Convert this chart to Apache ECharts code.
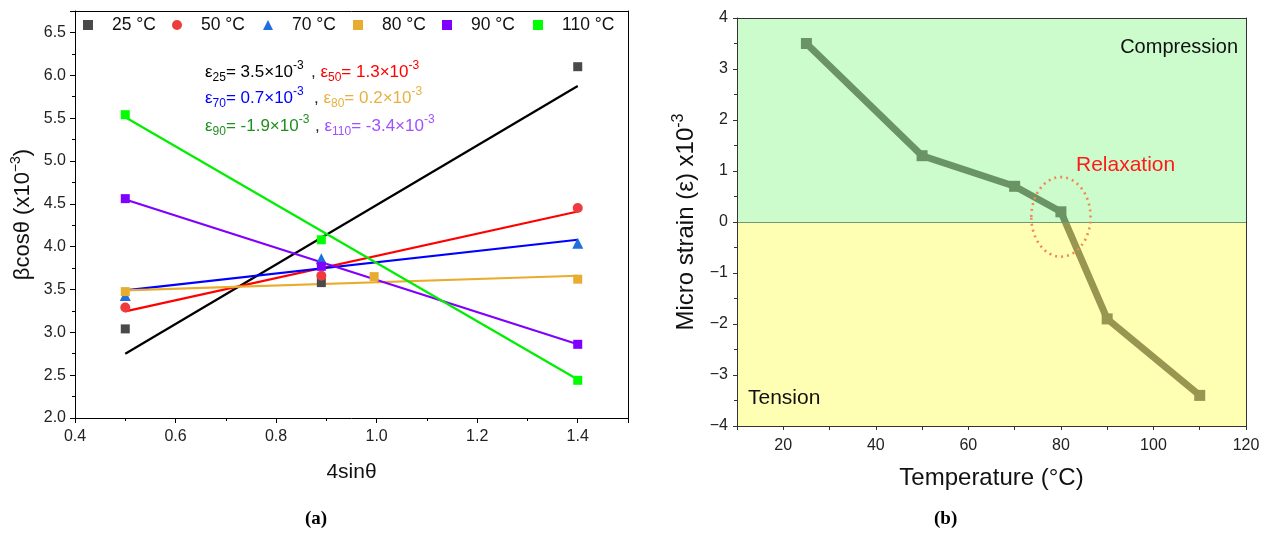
<!DOCTYPE html>
<html>
<head>
<meta charset="utf-8">
<script src="https://cdn.jsdelivr.net/npm/echarts@6/dist/echarts.min.js"></script>
<style>
  html, body { margin: 0; padding: 0; background: #fff; }
  #chart { width: 1268px; height: 535px; }
</style>
</head>
<body>
<div id="chart"></div>
<script>
const FONT = '"Liberation Sans", Arial, sans-serif';
const SERIF = '"Liberation Serif", "DejaVu Serif", serif';

// (a) Williamson–Hall points: x = 4sinθ, y = βcosθ (x10^-3)
const temps = ['25 °C', '50 °C', '70 °C', '80 °C', '90 °C', '110 °C'];
const sinX = [0.5, 0.89, 1.4];
const sinX80 = [0.5, 0.995, 1.4];
const b25 = [3.04, 3.58, 6.10];
const b50 = [3.29, 3.66, 4.45];
const b70 = [3.43, 3.86, 4.04];
const b80 = [3.475, 3.65, 3.62];
const b90 = [4.56, 3.77, 2.86];
const b110 = [5.54, 4.08, 2.44];

// straight-line fits, drawn between the first and last 4sinθ values
const fitX = [0.5, 1.4];
const fit25 = [2.75, 5.875];
const fit50 = [3.245, 4.41];
const fit70 = [3.49, 4.08];
const fit80 = [3.49, 3.66];
const fit90 = [4.55, 2.86];
const fit110 = [5.51, 2.45];

// (b) micro strain against temperature
const tempC = [25, 50, 70, 80, 90, 110];
const strain = [3.5, 1.3, 0.7, 0.2, -1.9, -3.4];

const pointsX = [sinX, sinX, sinX, sinX80, sinX, sinX];
const pointsY = [b25, b50, b70, b80, b90, b110];
const fitsY = [fit25, fit50, fit70, fit80, fit90, fit110];
const markerColors = ['#4a4a4a', '#ee3b3b', '#1f6fde', '#e8ad2e', '#8000ff', '#00ff00'];
const lineColors = ['#000000', '#ff0000', '#0000ff', '#e8ad2e', '#8000ff', '#00ee00'];
const symbols = ['rect', 'circle', 'triangle', 'rect', 'rect', 'rect'];
const legendLefts = [83, 172, 263, 353, 442, 533];

const COMP_COLOR = '#6a9464';
const TENS_COLOR = '#989650';

const chart = echarts.init(document.getElementById('chart'), null, { renderer: 'canvas' });

const series = [];
temps.forEach((name, k) => {
  series.push({
    name: name + ' fit', type: 'line', xAxisIndex: 0, yAxisIndex: 0,
    data: fitX.map((x, i) => [x, fitsY[k][i]]),
    showSymbol: false, symbol: 'none', silent: true,
    lineStyle: { color: lineColors[k], width: 2.2 }, z: 3
  });
});
temps.forEach((name, k) => {
  series.push({
    name: name, type: 'scatter', xAxisIndex: 0, yAxisIndex: 0,
    data: pointsX[k].map((x, i) => [x, pointsY[k][i]]),
    symbol: symbols[k], symbolSize: symbols[k] === 'triangle' ? 11 : (symbols[k] === 'circle' ? 10 : 9),
    itemStyle: { color: markerColors[k], opacity: 1 }, z: 4
  });
});
series.push({
  name: 'strain', type: 'line', xAxisIndex: 1, yAxisIndex: 1,
  data: tempC.map((t, i) => [t, strain[i]]),
  symbol: 'rect', symbolSize: 11, showSymbol: true,
  lineStyle: { width: 7, color: COMP_COLOR },
  itemStyle: { color: p => (p.value[1] > 0 ? COMP_COLOR : TENS_COLOR) },
  z: 4,
  markArea: {
    silent: true,
    data: [
      [{ yAxis: 0, itemStyle: { color: '#ccfccc' } }, { yAxis: 4 }],
      [{ yAxis: -4, itemStyle: { color: '#ffffb4' } }, { yAxis: 0 }]
    ]
  },
  markLine: {
    silent: true, symbol: 'none', label: { show: false },
    lineStyle: { color: '#6f9a6f', width: 1.2, type: 'solid' },
    data: [{ yAxis: 0 }]
  }
});

const legends = temps.map((name, k) => ({
  data: [name], left: legendLefts[k], top: 16, padding: 0,
  itemWidth: 10, itemHeight: 10, selectedMode: false,
  textStyle: { fontFamily: FONT, fontSize: 17.5, color: '#111', padding: [0, 0, 0, 14] }
}));

const tickLabel = { fontFamily: FONT, fontSize: 16, color: '#222' };
const frameAxis = (gridIndex, pos, isX) => ({
  gridIndex, position: pos, type: 'value', z: 10,
  min: isX ? (gridIndex === 0 ? 0.4 : 10) : (gridIndex === 0 ? 2 : -4),
  max: isX ? (gridIndex === 0 ? 1.5 : 120) : (gridIndex === 0 ? 6.75 : 4),
  axisLine: { show: true, onZero: false, lineStyle: { color: gridIndex === 0 ? '#000' : '#333', width: 1 } },
  axisTick: { show: false }, axisLabel: { show: false }, splitLine: { show: false }
});

const option = {
  animation: false,
  backgroundColor: '#fff',
  grid: [
    { left: 75, top: 11, width: 553, height: 407 },
    { left: 737, top: 18, width: 509, height: 408 }
  ],
  legend: legends,
  xAxis: [
    {
      gridIndex: 0, type: 'value', min: 0.4, max: 1.5, interval: 0.2, z: 10,
      axisLine: { onZero: false, lineStyle: { color: '#000', width: 1 } },
      axisTick: { length: 5, lineStyle: { color: '#000' } },
      minorTick: { show: true, splitNumber: 2, length: 3, lineStyle: { color: '#000' } },
      splitLine: { show: false },
      axisLabel: Object.assign({ margin: 11, formatter: v => v > 1.45 ? '' : v.toFixed(1) }, tickLabel),
      name: '4sinθ', nameLocation: 'middle', nameGap: 44,
      nameTextStyle: { fontFamily: FONT, fontSize: 21, color: '#111' }
    },
    {
      gridIndex: 1, type: 'value', min: 10, max: 120, interval: 10, z: 10,
      axisLine: { onZero: false, lineStyle: { color: '#333', width: 1 } },
      axisTick: { length: 4, lineStyle: { color: '#333' } },
      splitLine: { show: false },
      axisLabel: Object.assign({ margin: 12, formatter: v => v % 20 === 0 ? String(v) : '' }, tickLabel),
      name: 'Temperature (°C)', nameLocation: 'middle', nameGap: 40,
      nameTextStyle: { fontFamily: FONT, fontSize: 24, color: '#111' }
    },
    frameAxis(0, 'top', true),
    frameAxis(1, 'top', true)
  ],
  yAxis: [
    {
      gridIndex: 0, type: 'value', min: 2, max: 6.75, interval: 0.5, z: 10,
      axisLine: { onZero: false, lineStyle: { color: '#000', width: 1 } },
      axisTick: { length: 5, lineStyle: { color: '#000' } },
      minorTick: { show: true, splitNumber: 2, length: 3, lineStyle: { color: '#000' } },
      splitLine: { show: false },
      axisLabel: Object.assign({ margin: 9, formatter: v => v > 6.6 ? '' : v.toFixed(1) }, tickLabel),
      name: 'βcosθ (x10{sup|−3})', nameLocation: 'middle', nameGap: 38,
      nameTextStyle: {
        fontFamily: FONT, fontSize: 22, color: '#111', lineHeight: 28,
        rich: { sup: { fontFamily: FONT, fontSize: 14, color: '#111', verticalAlign: 'top', lineHeight: 14 } }
      }
    },
    {
      gridIndex: 1, type: 'value', min: -4, max: 4, interval: 1, z: 10,
      axisLine: { onZero: false, lineStyle: { color: '#333', width: 1 } },
      axisTick: { length: 4, lineStyle: { color: '#333' } },
      minorTick: { show: true, splitNumber: 2, length: 3, lineStyle: { color: '#333' } },
      splitLine: { show: false },
      axisLabel: Object.assign({ margin: 9, formatter: v => v < 0 ? '−' + Math.abs(v) : String(v) }, tickLabel),
      name: 'Micro strain (ε) x10{sup|-3}', nameLocation: 'middle', nameGap: 36,
      nameTextStyle: {
        fontFamily: FONT, fontSize: 24, color: '#111', lineHeight: 30,
        rich: { sup: { fontFamily: FONT, fontSize: 16, color: '#111', verticalAlign: 'top', lineHeight: 16 } }
      }
    },
    frameAxis(0, 'right', false),
    frameAxis(1, 'right', false)
  ],
  series
};
chart.setOption(option);

// the strain line turns olive where it passes below zero
const zeroY = chart.convertToPixel({ xAxisIndex: 1, yAxisIndex: 1 }, [80, 0])[1];
chart.setOption({
  series: [{ name: 'strain', lineStyle: {
    color: new echarts.graphic.LinearGradient(0, zeroY - 0.5, 0, zeroY + 0.5, [
      { offset: 0, color: COMP_COLOR }, { offset: 0.5, color: COMP_COLOR },
      { offset: 0.5, color: TENS_COLOR }, { offset: 1, color: TENS_COLOR }
    ], true)
  } }]
});

// strain labels inside panel (a), built from the same strain values as panel (b)
const MAIN_FONT = '17px ' + FONT;
const SMALL_FONT = '12px ' + FONT;
function strainText(idx, color, prefix) {
  const val = strain[idx].toFixed(1);
  const sub = String(tempC[idx]);
  return {
    text: (prefix ? '{c|, }' : '') + '{e|ε}{s|' + sub + '}{n|= ' + val + '×10}{p|-3}',
    font: MAIN_FONT,
    fill: color,
    rich: {
      c: { font: MAIN_FONT, fill: '#222', lineHeight: 24 },
      e: { font: MAIN_FONT, fill: color, lineHeight: 24 },
      n: { font: MAIN_FONT, fill: color, lineHeight: 24 },
      s: { font: SMALL_FONT, fill: color, lineHeight: 13, verticalAlign: 'bottom' },
      p: { font: SMALL_FONT, fill: color, lineHeight: 13, verticalAlign: 'top' }
    }
  };
}
const rows = [
  { y: 60, a: [0, '#000000'], b: [1, '#ff0000'], bx: 311 },
  { y: 86, a: [2, '#0000ff'], b: [3, '#e8b040'], bx: 314 },
  { y: 114, a: [4, '#1f8f1f'], b: [5, '#a050ff'], bx: 315 }
];
const graphics = [];
rows.forEach((r, i) => {
  graphics.push({ id: 'sa' + i, type: 'text', left: 205, top: r.y, z: 20, style: strainText(r.a[0], r.a[1], false) });
  graphics.push({ id: 'sb' + i, type: 'text', left: r.bx, top: r.y, z: 20, style: strainText(r.b[0], r.b[1], true) });
});
graphics.push({ id: 'capA', type: 'text', left: 305, top: 510, z: 20,
  style: { text: '(a)', font: 'bold 19px ' + SERIF, fill: '#000' } });
graphics.push({ id: 'capB', type: 'text', left: 934, top: 510, z: 20,
  style: { text: '(b)', font: 'bold 19px ' + SERIF, fill: '#000' } });
graphics.push({ id: 'comp', type: 'text', right: 1268 - 1238, top: 37, z: 20,
  style: { text: 'Compression', font: '20px ' + FONT, fill: '#111' } });
graphics.push({ id: 'tens', type: 'text', left: 748, top: 388, z: 20,
  style: { text: 'Tension', font: '21px ' + FONT, fill: '#111' } });
graphics.push({ id: 'relax', type: 'text', left: 1076, top: 155, z: 20,
  style: { text: 'Relaxation', font: '21px ' + FONT, fill: '#ff1a1a' } });

// dotted ellipse around the 80 °C point
const c = chart.convertToPixel({ xAxisIndex: 1, yAxisIndex: 1 }, [80, 0.1]);
const e = chart.convertToPixel({ xAxisIndex: 1, yAxisIndex: 1 }, [86.4, 0.88]);
graphics.push({ id: 'ring', type: 'ellipse', z: 20, silent: true,
  shape: { cx: c[0], cy: c[1], rx: Math.abs(e[0] - c[0]), ry: Math.abs(c[1] - e[1]) },
  style: { fill: 'none', stroke: '#f08a55', lineWidth: 2.6, lineDash: [2, 4] } });

chart.setOption({ graphic: graphics });
</script>
</body>
</html>
